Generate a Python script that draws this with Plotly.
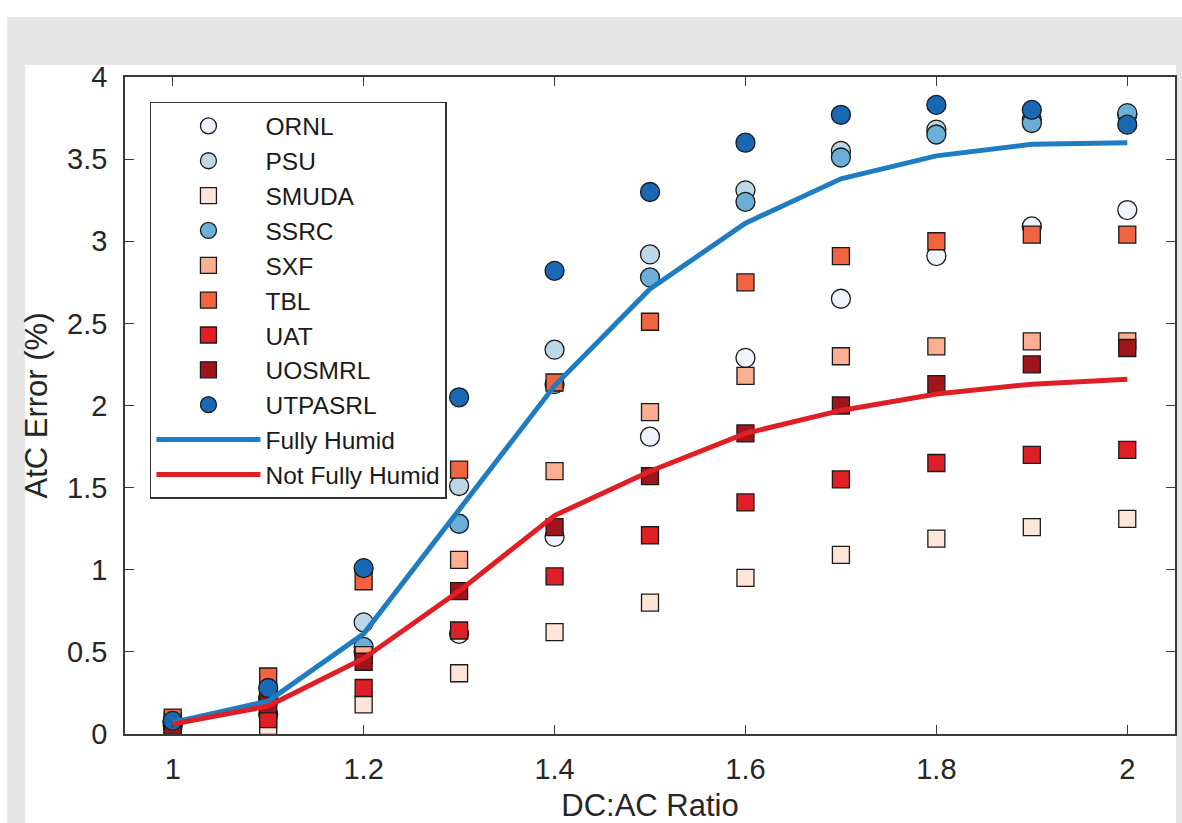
import plotly.graph_objects as go

# ---- data ----
dc_ac_ratio = [1.0, 1.1, 1.2, 1.3, 1.4, 1.5, 1.6, 1.7, 1.8, 1.9, 2.0]

ornl    = [0.05, 0.12, 0.50, 0.61, 1.20, 1.81, 2.29, 2.65, 2.91, 3.09, 3.19]
psu     = [0.07, 0.20, 0.68, 1.51, 2.34, 2.92, 3.31, 3.55, 3.68, 3.74, 3.77]
smuda   = [0.04, 0.05, 0.18, 0.37, 0.62, 0.80, 0.95, 1.09, 1.19, 1.26, 1.31]
ssrc    = [0.07, 0.22, 0.53, 1.28, 2.13, 2.78, 3.24, 3.51, 3.65, 3.72, 3.78]
sxf     = [0.08, 0.25, 0.48, 1.06, 1.60, 1.96, 2.18, 2.30, 2.36, 2.39, 2.39]
tbl     = [0.10, 0.35, 0.93, 1.61, 2.14, 2.51, 2.75, 2.91, 3.00, 3.04, 3.04]
uat     = [0.03, 0.09, 0.28, 0.63, 0.96, 1.21, 1.41, 1.55, 1.65, 1.70, 1.73]
uosmrl  = [0.05, 0.18, 0.44, 0.87, 1.26, 1.57, 1.83, 2.00, 2.13, 2.25, 2.35]
utpasrl = [0.08, 0.28, 1.01, 2.05, 2.82, 3.30, 3.60, 3.77, 3.83, 3.80, 3.71]

fully_humid     = [0.07, 0.20, 0.61, 1.37, 2.12, 2.71, 3.11, 3.38, 3.52, 3.59, 3.60]
not_fully_humid = [0.06, 0.17, 0.46, 0.87, 1.33, 1.60, 1.83, 1.97, 2.07, 2.13, 2.16]

x_tickvals = [1, 1.2, 1.4, 1.6, 1.8, 2]
x_ticktext = ["1", "1.2", "1.4", "1.6", "1.8", "2"]
y_tickvals = [0, 0.5, 1, 1.5, 2, 2.5, 3, 3.5, 4]
y_ticktext = ["0", "0.5", "1", "1.5", "2", "2.5", "3", "3.5", "4"]

series = [
    ("ORNL", ornl, "circle", "#eff3ff"),
    ("PSU", psu, "circle", "#bdd7e7"),
    ("SMUDA", smuda, "square", "#fee5d9"),
    ("SSRC", ssrc, "circle", "#6baed6"),
    ("SXF", sxf, "square", "#fcae91"),
    ("TBL", tbl, "square", "#f06440"),
    ("UAT", uat, "square", "#de2026"),
    ("UOSMRL", uosmrl, "square", "#a0151b"),
    ("UTPASRL", utpasrl, "circle", "#1968b4"),
]

FONT = "Arial, Liberation Sans, Helvetica, sans-serif"

fig = go.Figure()
for i, (name, vals, sym, col) in enumerate(series):
    fig.add_trace(go.Scatter(
        x=dc_ac_ratio, y=vals, mode="markers", name=name,
        legendgroup=f"g{i}",
        marker=dict(symbol=sym, size=19 if sym == "circle" else 17, color=col,
                    line=dict(color="#1a1a1a", width=1.3)),
    ))

fig.add_trace(go.Scatter(x=dc_ac_ratio, y=fully_humid, mode="lines", name="Fully Humid",
                         legendgroup="g9", line=dict(color="#1f7cc1", width=5)))
fig.add_trace(go.Scatter(x=dc_ac_ratio, y=not_fully_humid, mode="lines", name="Not Fully Humid",
                         legendgroup="g10", line=dict(color="#e01e26", width=5)))

W, H = 1182, 823
L, R, T, B = 125, 5, 77, 88
pw, ph = W - L - R, H - T - B

def px(xp):
    return (xp - L) / pw

def py(yp):
    return (H - B - yp) / ph

gray = "#e6e6e6"
shapes = [
    dict(type="rect", xref="paper", yref="paper", x0=px(7), x1=px(1185), y0=py(17), y1=py(65),
         fillcolor=gray, line=dict(width=0), layer="below"),
    dict(type="rect", xref="paper", yref="paper", x0=px(7), x1=px(25), y0=py(65), y1=py(830),
         fillcolor=gray, line=dict(width=0), layer="below"),
    dict(type="rect", xref="paper", yref="paper", x0=px(1178), x1=px(1185), y0=py(65), y1=py(830),
         fillcolor=gray, line=dict(width=0), layer="below"),
]

axis_common = dict(
    showline=True, linecolor="#3a3a3a", linewidth=1.5, mirror="ticks",
    ticks="inside", ticklen=9, tickwidth=1.3, tickcolor="#3a3a3a",
    showgrid=False, zeroline=False,
    tickfont=dict(family=FONT, size=29, color="#262626"),
)

fig.update_layout(
    width=W, height=H,
    margin=dict(l=L, r=R, t=T, b=B, pad=0),
    paper_bgcolor="white", plot_bgcolor="white",
    shapes=shapes,
    showlegend=True,
    legend=dict(
        x=px(150), y=py(102), xanchor="left", yanchor="top",
        bgcolor="white", bordercolor="#333333", borderwidth=1.5,
        font=dict(family=FONT, size=24.5, color="#1a1a1a"),
        itemwidth=104, tracegroupgap=0, traceorder="normal",
    ),
    xaxis=dict(range=[0.95, 2.05], tickvals=x_tickvals, ticktext=x_ticktext,
               title=dict(text="DC:AC Ratio", font=dict(family=FONT, size=31, color="#262626"), standoff=12),
               ticklabelstandoff=8, **axis_common),
    yaxis=dict(range=[0, 4], tickvals=y_tickvals, ticktext=y_ticktext,
               title=dict(text="AtC Error (%)", font=dict(family=FONT, size=31, color="#262626"), standoff=10),
               ticklabelstandoff=10, **axis_common),
)

fig.write_html("out.html", config={"displayModeBar": False},
               post_script="document.body.style.margin='0';")
